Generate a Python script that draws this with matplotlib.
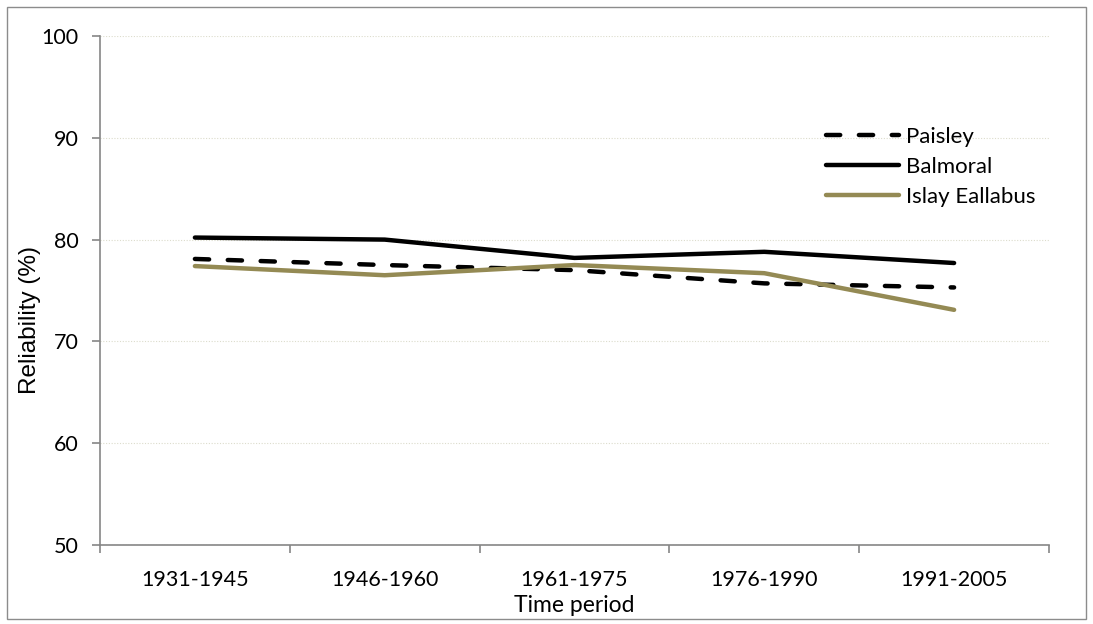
import matplotlib
matplotlib.use('Agg')
from matplotlib import pyplot as plt
from matplotlib.patches import Rectangle

# data
periods = ['1931-1945', '1946-1960', '1961-1975', '1976-1990', '1991-2005']
paisley = [78.1, 77.5, 77.0, 75.7, 75.3]
balmoral = [80.2, 80.0, 78.2, 78.8, 77.7]
islay = [77.4, 76.5, 77.5, 76.7, 73.1]

W, H = 1093, 624
fig = plt.figure(figsize=(W / 100, H / 100), dpi=100)
ax = fig.add_axes([100 / W, 1 - 545 / H, (1049 - 100) / W, (545 - 36) / H])

# outer border of the chart area
fig.patches.append(Rectangle((7 / W, 5 / H), (1086 - 7) / W, (617 - 5) / H,
                             transform=fig.transFigure, fill=False,
                             edgecolor='#8c8c8c', linewidth=1.0))

x = list(range(len(periods)))
ax.plot(x, paisley, color='black', linewidth=3.2, linestyle=(0, (3.2, 4.2)),
        dash_capstyle='round', solid_capstyle='round', label='Paisley', zorder=3)
ax.plot(x, balmoral, color='black', linewidth=3.2, solid_capstyle='round',
        label='Balmoral', zorder=3)
ax.plot(x, islay, color='#948a54', linewidth=3.2, solid_capstyle='round',
        label='Islay Eallabus', zorder=3)

ax.set_xlim(-0.5, len(periods) - 0.5)
ax.set_ylim(50, 100)
ax.set_yticks([50, 60, 70, 80, 90, 100])
ax.yaxis.grid(True, color='#dcdccc', linestyle=(0, (1, 1.5)), linewidth=0.8)
ax.set_axisbelow(True)

ax.set_xticks(x)
ax.set_xticklabels(periods)
ax.set_xticks([i - 0.5 for i in range(len(periods) + 1)], minor=True)
ax.tick_params(axis='x', which='major', length=0, pad=18, labelsize=15.5)
ax.tick_params(axis='x', which='minor', length=5.5, color='#868686', width=1.2)
ax.tick_params(axis='y', length=5.5, color='#868686', width=1.2, labelsize=15.5, pad=10)
for lab in ax.get_xticklabels() + ax.get_yticklabels():
    lab.set_family(['Lato', 'DejaVu Sans'])

for s in ['top', 'right']:
    ax.spines[s].set_visible(False)
for s in ['left', 'bottom']:
    ax.spines[s].set_color('#868686')
    ax.spines[s].set_linewidth(1.2)

ax.set_xlabel('Time period', fontsize=16.5, family=['Lato', 'DejaVu Sans'])
ax.xaxis.set_label_coords(0.5, -(606 - 545) / 509)
ax.xaxis.label.set_va('center')
ax.set_ylabel('Reliability (%)', fontsize=17.5, family=['Liberation Sans', 'DejaVu Sans'])
ax.yaxis.set_label_coords((41 - 100) / 949, (545 - 320) / 509)

leg = ax.legend(loc='center left', bbox_to_anchor=(826 / W, 1 - 167 / H),
                bbox_transform=fig.transFigure, frameon=False,
                handlelength=3.3, handletextpad=0.3, labelspacing=0.45,
                borderpad=0, borderaxespad=0,
                prop={'family': ['Lato', 'DejaVu Sans'], 'size': 16})

fig.savefig('out.png', dpi=100)
